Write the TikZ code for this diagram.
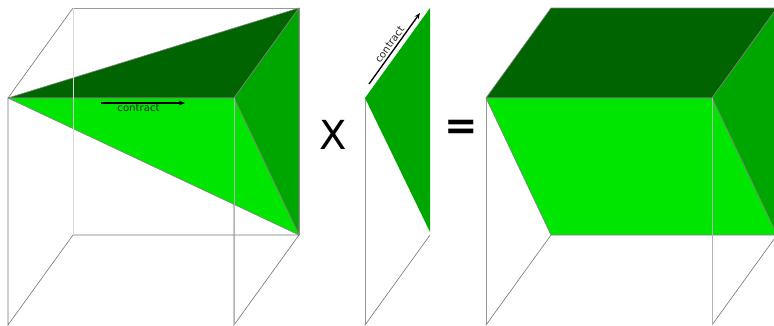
\documentclass[tikz,border=0pt]{standalone}
\usepackage{fontspec}
\setmainfont{DejaVu Sans}
\definecolor{lightg}{HTML}{00E600}
\definecolor{midg}{HTML}{00A600}
\definecolor{darkg}{HTML}{006400}
\usetikzlibrary{arrows.meta}
\tikzset{
  x=0.75pt,y=-0.75pt,
  wire/.style={draw=black!55,line width=0.45pt},
  wirefaint/.style={draw=black!15,line width=0.75pt},
  wirelight/.style={draw=black!40,line width=0.6pt},
  faceedge/.style={draw=black!50,line width=0.45pt,line join=round},
  plainedge/.style={draw=black!30,line width=0.4pt},
  arrowline/.style={draw=black,line width=1pt,-{Stealth[length=4.5pt,width=3.5pt]}},
  lbl/.style={inner sep=0pt,font=\fontsize{7.6pt}{9pt}\selectfont,text=black!85},
  op/.style={inner sep=0pt,font=\fontsize{30pt}{32pt}\selectfont}
}
\begin{document}
\begin{tikzpicture}
\useasboundingbox (0,0) rectangle (774,325);
\clip (0,0) rectangle (774,325);
% left cube
\coordinate (a1) at (8,98); \coordinate (b1) at (234,98);
\coordinate (c1) at (73,8); \coordinate (d1) at (299,8);
\coordinate (e1) at (8,325); \coordinate (f1) at (234,325);
\coordinate (g1) at (73,235); \coordinate (h1) at (299,235);
\draw[wire] (c1) -- (a1) -- (e1) -- (g1) -- (h1) -- (f1) -- (b1);
\draw[wirelight] (c1) -- (d1);
\draw[wirelight] (d1) -- (h1);
\path[fill=darkg,faceedge] (a1) -- (d1) -- (b1) -- cycle;
\path[fill=midg,faceedge] (b1) -- (d1) -- (h1) -- cycle;
\path[fill=lightg,faceedge] (a1) -- (b1) -- (h1) -- cycle;
\draw[wirefaint] (c1) -- (g1);
\draw[plainedge] (b1) -- (f1);
\coordinate (ct1) at (101,103); \coordinate (ct2) at (185,103);
\draw[arrowline] (ct1) -- (ct2);
\node[lbl] (contractA) at (138.5,108) {contract};
% middle sheet
\coordinate (a2) at (365,98); \coordinate (d2) at (430,8);
\coordinate (h2) at (430,232); \coordinate (e2) at (365,325); \coordinate (g2) at (430,235);
\draw[wirelight] (a2) -- (e2);
\draw[wire] (e2) -- (g2);
\path[fill=midg] (a2) -- (d2) -- (h2) -- cycle;
\coordinate (ct3) at (369,84); \coordinate (ct4) at (420,13);
\draw[arrowline] (ct3) -- (ct4);
\node[lbl,rotate=54.3] (contractB) at (389.5,44.5) {contract};
% operators
\node[op] (times) at (333,134.5) {X};
\node[op,font=\fontsize{30pt}{32pt}\bfseries\selectfont] (equals) at (461.5,130) {=};
% right prism
\coordinate (a3) at (486,98); \coordinate (b3) at (712,98);
\coordinate (c3) at (551,8); \coordinate (d3) at (777,8);
\coordinate (e3) at (486,325); \coordinate (f3) at (712,325);
\coordinate (g3) at (551,235); \coordinate (h3) at (777,235);
\draw[wirelight] (a3) -- (e3);
\draw[wire] (e3) -- (g3);
\draw[wire] (f3) -- (h3);
\path[fill=darkg,faceedge] (a3) -- (c3) -- (d3) -- (b3) -- cycle;
\path[fill=midg,faceedge] (b3) -- (d3) -- (h3) -- cycle;
\path[fill=lightg,faceedge] (a3) -- (b3) -- (h3) -- (g3) -- cycle;
\draw[plainedge] (b3) -- (f3);
\end{tikzpicture}
\end{document}
